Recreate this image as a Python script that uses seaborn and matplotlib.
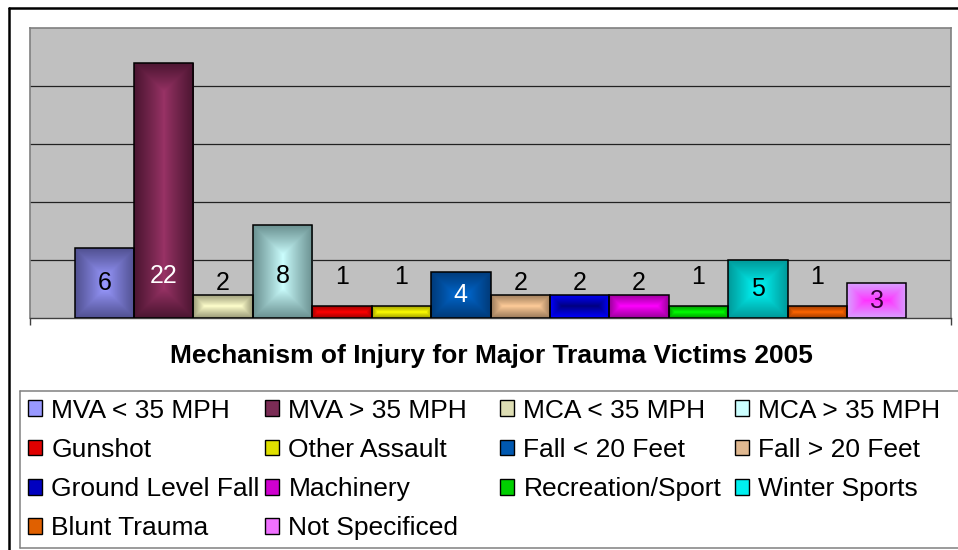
import numpy as np
import pandas as pd
import matplotlib
matplotlib.use("Agg")
import matplotlib.pyplot as plt
from matplotlib.patches import Patch, Rectangle
from matplotlib.lines import Line2D
import matplotlib.colors as mcolors
import seaborn as sns

# ---------------- data ----------------
mechanisms = ["MVA < 35 MPH", "MVA > 35 MPH", "MCA < 35 MPH", "MCA > 35 MPH",
              "Gunshot", "Other Assault", "Fall < 20 Feet", "Fall > 20 Feet",
              "Ground Level Fall", "Machinery", "Recreation/Sport", "Winter Sports",
              "Blunt Trauma", "Not Specificed"]
counts = [6, 22, 2, 8, 1, 1, 4, 2, 2, 2, 1, 5, 1, 3]
title = "Mechanism of Injury for Major Trauma Victims 2005"

# ---------------- styles ----------------
center_colors = ["#9999FF", "#993366", "#FFFFCC", "#CCFFFF", "#FF0000", "#FFFF00",
                 "#0066CC", "#FFCC99", "#000080", "#FF00FF", "#00FF00", "#00FFFF",
                 "#FF6600", "#FF33FF"]
edge_colors = ["#505090", "#4A1530", "#9A9A78", "#6A9090", "#A00000", "#A0A000",
               "#003A78", "#9A7A5A", "#0000FF", "#990099", "#009900", "#009999",
               "#A03C00", "#D8A0FF"]
legend_colors = ["#9999FF", "#7B2C55", "#DEDEB4", "#CCFFFF", "#E00000", "#E0E000",
                 "#0058B0", "#E0B890", "#0000C0", "#D000D0", "#00D000", "#00F0F0",
                 "#E06000", "#F070FF"]
label_colors = ["black", "white", "black", "black", "black", "black", "white",
                "black", "black", "black", "black", "black", "black", "#330033"]

sns.set_style("white")
plt.rcParams["font.family"] = ["Liberation Sans", "DejaVu Sans"]
plt.rcParams["text.color"] = "black"

W_PX, H_PX = 958, 550
fig = plt.figure(figsize=(W_PX / 100, H_PX / 100), dpi=100)

def fx(px):
    return px / W_PX

def fy(py):
    return 1 - py / H_PX

# plot area 30..951 x 28..318 (pixels)
ax = fig.add_axes([fx(30), fy(318), (951 - 30) / W_PX, (318 - 28) / H_PX])
ax.set_facecolor("#C0C0C0")

df = pd.DataFrame({"group": ["2005"] * len(mechanisms),
                   "mechanism": mechanisms,
                   "count": counts})
mid_palette = {m: mcolors.to_hex((np.array(mcolors.to_rgb(c)) + np.array(mcolors.to_rgb(e))) / 2)
               for m, c, e in zip(mechanisms, center_colors, edge_colors)}
sns.barplot(data=df, x="group", y="count", hue="mechanism", hue_order=mechanisms,
            palette=mid_palette, width=0.903, dodge=True, legend=False,
            edgecolor="black", linewidth=1.1, saturation=1, ax=ax, zorder=2)

ax.set_xlim(-0.5, 0.5)
ax.set_ylim(0, 25)
ax.set_yticks([5, 10, 15, 20])
ax.set_yticklabels([])
ax.tick_params(axis="y", length=0)
ax.yaxis.grid(True, color="#222222", linewidth=0.9)
ax.xaxis.grid(False)
ax.set_axisbelow(True)
ax.set_xticks([-0.5, 0.5])
ax.set_xticklabels(["", ""])
ax.tick_params(axis="x", direction="out", length=5, width=1, color="#404040", bottom=True)
ax.set_xlabel("")
ax.set_ylabel("")
for side in ["top", "left", "right"]:
    ax.spines[side].set_color("#808080")
    ax.spines[side].set_linewidth(1.2)
ax.spines["bottom"].set_color("#404040")
ax.spines["bottom"].set_linewidth(1.0)

# bars in order of position
bars = sorted([p for p in ax.patches if isinstance(p, Rectangle) and p.get_height() > 0],
              key=lambda p: p.get_x())

# gradient fill ("from centre") for each bar, clipped to the bar
for p, c0, c1 in zip(bars, center_colors, edge_colors):
    x0, y0, w, h = p.get_x(), p.get_y(), p.get_width(), p.get_height()
    (px0, py0), (px1, py1) = ax.transData.transform([(x0, y0), (x0 + w, y0 + h)])
    Wp = max(int(round(px1 - px0)), 2)
    Hp = max(int(round(py1 - py0)), 2)
    xs = np.arange(Wp) + 0.5
    ys = np.arange(Hp) + 0.5
    half = min(Wp, Hp) / 2
    dx = np.minimum(xs, Wp - xs)
    dy = np.minimum(ys, Hp - ys)
    tx = np.clip(1 - dx / half, 0, 1)
    ty = np.clip(1 - dy / half, 0, 1)
    t = np.maximum(tx[None, :], ty[:, None]) ** 0.9
    a = np.array(mcolors.to_rgb(c0))
    b = np.array(mcolors.to_rgb(c1))
    img = (1 - t)[..., None] * a + t[..., None] * b
    im = ax.imshow(img, extent=(x0, x0 + w, y0, y0 + h), aspect="auto",
                   origin="lower", zorder=2.5, interpolation="bilinear")
    im.set_clip_path(p)
    p.set_facecolor("none")
    p.set_zorder(3)

ax.set_xlim(-0.5, 0.5)
ax.set_ylim(0, 25)
ax.set_aspect("auto")

# value labels
for p, v, lc in zip(bars, counts, label_colors):
    cx = p.get_x() + p.get_width() / 2
    ty_ = min(v / 2, 3.6) if v >= 3 else 4 - v / 2
    ax.text(cx, ty_, str(v), ha="center", va="center", fontsize=18,
            color=lc, zorder=4)

# title
fig.text(fx(491.5), fy(356), title, ha="center", va="center",
         fontsize=19, fontweight="bold", color="black")

# legend: 4 equal-width columns, items in row-major order
handles = [Patch(facecolor=c, edgecolor="black", linewidth=1.0) for c in legend_colors]
ncol = 4
col_left_px = [28, 265, 500, 735]
for c in range(ncol):
    idx = list(range(c, len(mechanisms), ncol))
    fig.legend([handles[i] for i in idx], [mechanisms[i] for i in idx],
               ncol=1, loc="upper left", bbox_to_anchor=(fx(col_left_px[c]), fy(398.5)),
               frameon=False, fontsize=19, borderpad=0, borderaxespad=0,
               handlelength=0.53, handleheight=0.53, handletextpad=0.36,
               labelspacing=0.58, labelcolor="black")

# legend frame (grey) and outer chart frame (black)
fig.add_artist(Line2D([fx(20), 1.0], [fy(391), fy(391)], color="#808080", lw=1.1))
fig.add_artist(Line2D([fx(20), fx(20)], [fy(391), fy(548)], color="#808080", lw=1.1))
fig.add_artist(Line2D([fx(20), 1.0], [fy(548), fy(548)], color="#808080", lw=1.1))
fig.add_artist(Line2D([fx(9), 1.0], [fy(8), fy(8)], color="black", lw=1.8))
fig.add_artist(Line2D([fx(9), fx(9)], [fy(8), 0.0], color="black", lw=1.8))

fig.savefig("out.png", dpi=100)
